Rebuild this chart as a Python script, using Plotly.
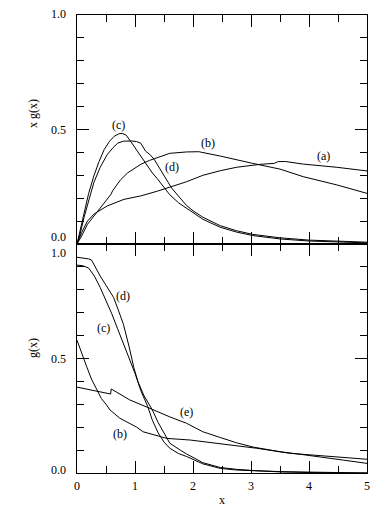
import plotly.graph_objects as go

# ---- top panel: x g(x) ----
TOP_A_X = [0, 0.08, 0.18, 0.29, 0.35, 0.52, 0.81, 1.1, 1.39, 1.6, 1.89, 2.17, 2.47, 2.75, 3.16, 3.4, 3.47, 3.6, 3.9, 4.48, 5.0]
TOP_A_Y = [0, 0.05, 0.10, 0.13, 0.14, 0.166, 0.195, 0.21, 0.231, 0.247, 0.272, 0.30, 0.32, 0.335, 0.348, 0.352, 0.36, 0.36, 0.349, 0.335, 0.319]

TOP_B_X = [0, 0.08, 0.18, 0.3, 0.41, 0.5, 0.58, 0.62, 0.66, 0.75, 0.87, 1.0, 1.1, 1.25, 1.39, 1.6, 1.89, 2.1, 2.47, 2.75, 3.03, 3.33, 3.5, 3.9, 4.48, 5.0]
TOP_B_Y = [0, 0.035, 0.086, 0.125, 0.159, 0.19, 0.215, 0.235, 0.25, 0.28, 0.31, 0.333, 0.348, 0.365, 0.378, 0.396, 0.402, 0.403, 0.384, 0.367, 0.352, 0.336, 0.327, 0.294, 0.258, 0.221]

TOP_C_X = [0, 0.05, 0.12, 0.2, 0.29, 0.38, 0.47, 0.56, 0.64, 0.72, 0.78, 0.85, 0.98, 1.1, 1.21, 1.3, 1.385, 1.5, 1.6, 1.75, 1.89, 2.0, 2.17, 2.47, 2.75, 3.03, 3.5, 4.0, 4.5, 5.0]
TOP_C_Y = [0, 0.055, 0.137, 0.22, 0.297, 0.36, 0.413, 0.448, 0.47, 0.481, 0.483, 0.475, 0.428, 0.385, 0.34, 0.31, 0.285, 0.25, 0.215, 0.18, 0.155, 0.135, 0.108, 0.073, 0.052, 0.037, 0.022, 0.013, 0.008, 0.005]

TOP_D_X = [0, 0.05, 0.12, 0.2, 0.29, 0.4, 0.52, 0.62, 0.7, 0.8, 0.94, 1.03, 1.1, 1.18, 1.26, 1.33, 1.45, 1.55, 1.63, 1.78, 1.89, 2.0, 2.17, 2.47, 2.75, 3.03, 3.5, 4.0, 4.5, 5.0]
TOP_D_Y = [0, 0.04, 0.115, 0.19, 0.268, 0.335, 0.39, 0.42, 0.44, 0.449, 0.45, 0.447, 0.44, 0.406, 0.39, 0.37, 0.32, 0.28, 0.245, 0.2, 0.168, 0.145, 0.117, 0.08, 0.058, 0.042, 0.027, 0.017, 0.011, 0.008]

# ---- bottom panel: g(x) ----
BOT_B_X = [0, 0.08, 0.167, 0.25, 0.34, 0.42, 0.51, 0.57, 0.74, 0.86, 1.03, 1.14, 1.32, 1.55, 1.95, 2.52, 3.1, 3.67, 4.25, 5.0]
BOT_B_Y = [0.58, 0.52, 0.464, 0.41, 0.362, 0.325, 0.297, 0.275, 0.239, 0.224, 0.2, 0.18, 0.168, 0.151, 0.144, 0.127, 0.108, 0.086, 0.075, 0.06]

BOT_C_X = [0, 0.1, 0.2, 0.3, 0.4, 0.5, 0.6, 0.7, 0.8, 0.9, 1.0, 1.1, 1.22, 1.3, 1.4, 1.5, 1.6, 1.75, 1.89, 2.17, 2.47, 2.75, 3.03, 3.5, 4.0, 4.4, 5.0]
BOT_C_Y = [0.908, 0.905, 0.895, 0.86, 0.81, 0.755, 0.695, 0.63, 0.565, 0.5, 0.435, 0.36, 0.29, 0.23, 0.175, 0.135, 0.108, 0.085, 0.072, 0.04, 0.02, 0.013, 0.009, 0.005, 0.002, 0.001, 0.0]

BOT_D_X = [0, 0.1, 0.2, 0.25, 0.3, 0.4, 0.5, 0.63, 0.7, 0.8, 0.9, 0.94, 0.98, 1.05, 1.15, 1.3, 1.4, 1.5, 1.6, 1.78, 1.89, 2.17, 2.47, 2.75, 3.03, 3.5, 4.0, 4.4, 5.0]
BOT_D_Y = [0.942, 0.94, 0.935, 0.93, 0.905, 0.86, 0.82, 0.767, 0.72, 0.65, 0.55, 0.505, 0.46, 0.4, 0.34, 0.275, 0.22, 0.175, 0.13, 0.1, 0.083, 0.045, 0.024, 0.016, 0.011, 0.006, 0.003, 0.001, 0.0]

BOT_E_X = [0, 0.2, 0.4, 0.58, 0.59, 0.75, 0.91, 1.26, 1.6, 1.89, 2.17, 2.47, 2.75, 3.04, 3.5, 3.9, 4.25, 4.6, 5.0]
BOT_E_Y = [0.375, 0.365, 0.355, 0.345, 0.367, 0.342, 0.319, 0.282, 0.245, 0.217, 0.18, 0.155, 0.132, 0.113, 0.093, 0.08, 0.069, 0.056, 0.042]

# curve labels: (text, x, y)
TOP_LABELS = [("(c)", 0.72, 0.52), ("(b)", 2.25, 0.443), ("(a)", 4.25, 0.384), ("(d)", 1.64, 0.338)]
BOT_LABELS = [("(d)", 0.79, 0.773), ("(c)", 0.45, 0.632), ("(e)", 1.89, 0.268), ("(b)", 0.74, 0.17)]

Y_TICKS = [0.0, 0.5, 1.0]
TOP_TICK_SHIFT = [7, 0, 1]
BOT_TICK_SHIFT = [3, 0, -9]
X_TICKS = [0, 1, 2, 3, 4, 5]

FONT = "Liberation Serif"

fig = go.Figure()
line = dict(color="black", width=1)
for xs, ys in [(TOP_A_X, TOP_A_Y), (TOP_B_X, TOP_B_Y), (TOP_C_X, TOP_C_Y), (TOP_D_X, TOP_D_Y)]:
    fig.add_trace(go.Scatter(x=xs, y=ys, mode="lines", line=line, xaxis="x", yaxis="y", showlegend=False))
for xs, ys in [(BOT_B_X, BOT_B_Y), (BOT_C_X, BOT_C_Y), (BOT_D_X, BOT_D_Y), (BOT_E_X, BOT_E_Y)]:
    fig.add_trace(go.Scatter(x=xs, y=ys, mode="lines", line=line, xaxis="x2", yaxis="y2", showlegend=False))

axis_common = dict(
    showline=True, linecolor="black", linewidth=1, mirror="ticks",
    ticks="inside", ticklen=12, tickcolor="black", tickwidth=1,
    showgrid=False, zeroline=False,
)
x_common = dict(axis_common, range=[0, 5], tickvals=X_TICKS,
                minor=dict(ticks="inside", ticklen=7, dtick=0.5, tick0=0, tickcolor="black", showgrid=False))
y_common = dict(axis_common, range=[0, 1], tickvals=Y_TICKS, showticklabels=False,
                minor=dict(ticks="inside", ticklen=7, dtick=0.1, tick0=0, tickcolor="black", showgrid=False))

txt_font = dict(family=FONT, size=12, color="black")
annotations = []
for txt, x, y in TOP_LABELS:
    annotations.append(dict(text=txt, x=x, y=y, xref="x", yref="y", showarrow=False, font=txt_font))
for txt, x, y in BOT_LABELS:
    annotations.append(dict(text=txt, x=x, y=y, xref="x2", yref="y2", showarrow=False, font=txt_font))
for v, s in zip(Y_TICKS, TOP_TICK_SHIFT):
    annotations.append(dict(text=f"{v:.1f}", x=0, y=v, xref="paper", yref="y", xanchor="right", yanchor="middle",
                            xshift=-9, yshift=s, showarrow=False, font=txt_font))
for v, s in zip(Y_TICKS, BOT_TICK_SHIFT):
    annotations.append(dict(text=f"{v:.1f}", x=0, y=v, xref="paper", yref="y2", xanchor="right", yanchor="middle",
                            xshift=-9, yshift=s, showarrow=False, font=txt_font))
annotations.append(dict(text="x g(x)", x=-0.152, y=0.786, xref="paper", yref="paper", textangle=-90,
                        xanchor="center", yanchor="middle", showarrow=False, font=txt_font))
annotations.append(dict(text="g(x)", x=-0.152, y=0.273, xref="paper", yref="paper", textangle=-90,
                        xanchor="center", yanchor="middle", showarrow=False, font=txt_font))
annotations.append(dict(text="x", x=0.5, y=-0.059, xref="paper", yref="paper",
                        xanchor="center", yanchor="middle", showarrow=False, font=txt_font))

# page body adds an 8px offset, so the figure is sized to fill the rest of the window
fig.update_layout(
    width=384, height=507,
    margin=dict(l=69, r=25, t=7, b=42),
    paper_bgcolor="white", plot_bgcolor="white",
    font=txt_font,
    xaxis=dict(x_common, anchor="y", showticklabels=False),
    yaxis=dict(y_common, domain=[0.5, 1], anchor="x"),
    xaxis2=dict(x_common, anchor="y2", showticklabels=True, ticklabelstandoff=2),
    yaxis2=dict(y_common, domain=[0, 0.5], anchor="x2"),
    annotations=annotations,
)

fig.write_html("out.html")
